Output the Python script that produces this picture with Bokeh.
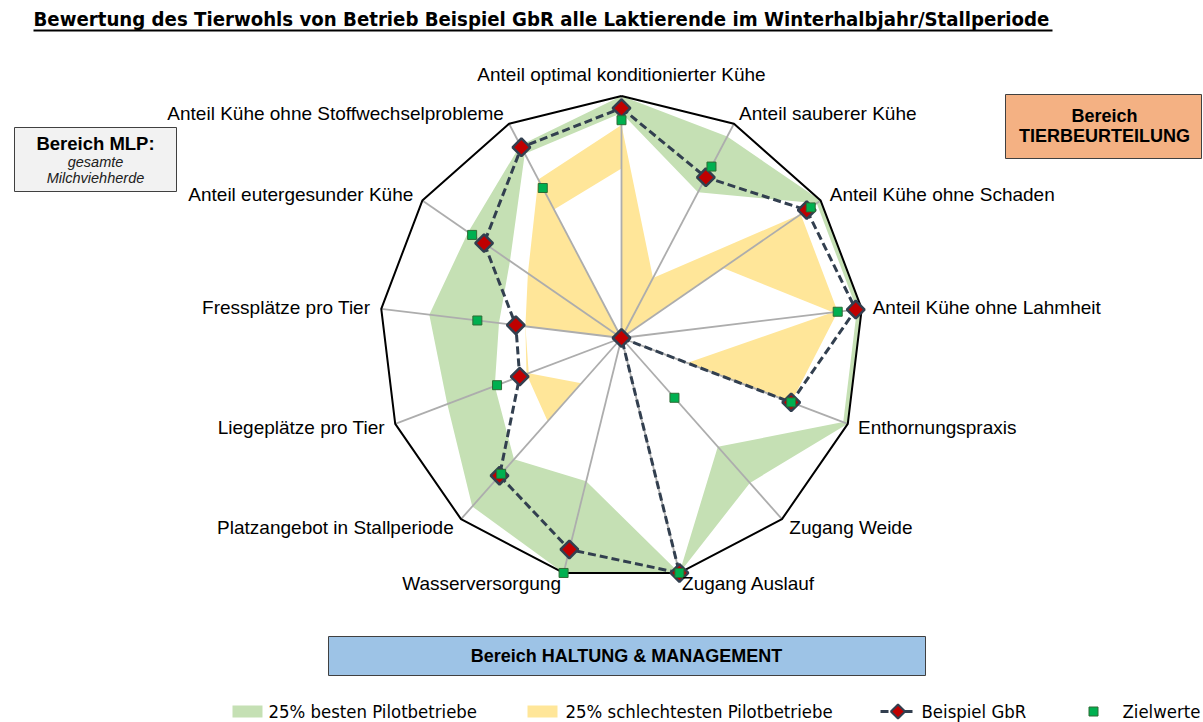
import math
from bokeh.plotting import figure
from bokeh.models import Range1d
from bokeh.core.properties import value
from bokeh.embed import file_html
from bokeh.resources import INLINE

# ---------------- data ----------------
categories = [
    "Anteil optimal konditionierter Kühe",
    "Anteil sauberer Kühe",
    "Anteil Kühe ohne Schaden",
    "Anteil Kühe ohne Lahmheit",
    "Enthornungspraxis",
    "Zugang Weide",
    "Zugang Auslauf",
    "Wasserversorgung",
    "Platzangebot in Stallperiode",
    "Liegeplätze pro Tier",
    "Fressplätze pro Tier",
    "Anteil eutergesunder Kühe",
    "Anteil Kühe ohne Stoffwechselprobleme",
]
best_upper = [1.00, 0.94, 1.00, 1.00, 1.00, 0.80, 1.00, 1.00, 0.93, 0.77, 0.80, 0.77, 0.90]
best_lower = [0.93, 0.68, 0.98, 0.98, 0.98, 0.60, 1.00, 0.61, 0.67, 0.56, 0.51, 0.56, 0.86]
worst_upper = [0.88, 0.28, 0.90, 0.90, 0.75, 0.00, 0.00, 0.00, 0.46, 0.42, 0.40, 0.47, 0.74]
worst_lower = [0.70, 0.00, 0.51, 0.88, 0.29, 0.00, 0.00, 0.00, 0.25, 0.41, 0.40, 0.00, 0.60]
betrieb = [0.95, 0.75, 0.93, 0.975, 0.75, 0.00, 1.00, 0.90, 0.76, 0.45, 0.44, 0.69, 0.89]
zielwerte = [0.90, 0.80, 0.95, 0.90, 0.75, 0.33, 1.00, 1.00, 0.75, 0.55, 0.60, 0.75, 0.70]

title = "Bewertung des Tierwohls von Betrieb Beispiel GbR alle Laktierende im Winterhalbjahr/Stallperiode"
legend_labels = ["25% besten Pilotbetriebe", "25% schlechtesten Pilotbetriebe", "Beispiel GbR", "Zielwerte"]

# ---------------- styles ----------------
GREEN = "#c5e0b4"
YELLOW = "#ffe699"
RED = "#c00000"
DARK = "#323f4f"
TGREEN = "#00b050"
LABEL_FONT = "Liberation Sans"
NARROW = "DejaVu Sans Condensed"

W, H = 1203, 722
p = figure(width=W, height=H, x_range=Range1d(0, W), y_range=Range1d(H, 0),
           output_backend="svg", toolbar_location=None, min_border=0)
p.axis.visible = False
p.grid.visible = False
p.outline_line_color = None
p.background_fill_color = "white"
p.border_fill_color = "white"

CX, CY, R = 621, 337.5, 242
n = len(categories)
ang = [2 * math.pi * i / n for i in range(n)]


def pts(vals, close=False):
    xs = [CX + R * v * math.sin(a) for v, a in zip(vals, ang)]
    ys = [CY - R * v * math.cos(a) for v, a in zip(vals, ang)]
    if close:
        xs.append(xs[0]); ys.append(ys[0])
    return xs, ys


# filled bands (layered like the original filled radar)
for vals, col in [(best_upper, GREEN), (best_lower, "white"),
                  (worst_upper, YELLOW), (worst_lower, "white")]:
    xs, ys = pts(vals)
    p.patch(xs, ys, fill_color=col, line_color=None)

# spokes
vx, vy = pts([1.0] * n)
p.segment(x0=[CX] * n, y0=[CY] * n, x1=vx, y1=vy, line_color="#adadad", line_width=1.8)
# outer frame
ox, oy = pts([1.0] * n, close=True)
p.line(ox, oy, line_color="black", line_width=2)

# Beispiel GbR
bx, by = pts(betrieb, close=True)
p.line(bx, by, line_color=DARK, line_width=3, line_dash="8 4")
bx, by = pts(betrieb)
p.scatter(bx, by, marker="square", angle=math.pi / 4, size=12.5, fill_color=RED,
          line_color=DARK, line_width=2.5)
# Zielwerte
zx, zy = pts(zielwerte)
p.scatter(zx, zy, marker="square", size=9, fill_color=TGREEN, line_color="#2e6b34", line_width=1)

# category labels
groups = {"left": ([], [], []), "right": ([], [], []), "center": ([], [], [])}
for i, (c, a, x, y) in enumerate(zip(categories, ang, vx, vy)):
    s, co = math.sin(a), math.cos(a)
    if abs(s) < 1e-6:
        g = "center"; tx, ty = x, y - 22
    elif s > 0:
        g = "left"; tx, ty = x + 11 * s, y - 11 * co
    else:
        g = "right"; tx, ty = x + 11 * s, y - 11 * co
    groups[g][0].append(tx); groups[g][1].append(ty); groups[g][2].append(c)
for g, (xs, ys, ts) in groups.items():
    p.text(xs, ys, text=ts, text_align=g, text_baseline="middle",
           text_font=value(LABEL_FONT), text_font_size="19px", text_color="black")

# title
p.text([33], [18], text=[title], text_align="left", text_baseline="middle",
       text_font=value(NARROW), text_font_size="20.2px", text_font_style="bold", text_color="black")
p.segment(x0=[33], y0=[30], x1=[1052], y1=[30], line_color="black", line_width=2)

# area boxes
p.quad(left=[14], right=[176], top=[127], bottom=[191], fill_color="#f2f2f2", line_color="#404040", line_width=1)
p.text([95], [143], text=["Bereich MLP:"], text_align="center", text_baseline="middle",
       text_font=value(LABEL_FONT), text_font_size="18.5px", text_font_style="bold")
p.text([95, 95], [161, 177], text=["gesamte", "Milchviehherde"], text_align="center", text_baseline="middle",
       text_font=value(LABEL_FONT), text_font_size="14.5px", text_font_style="italic", text_color="#202020")

p.quad(left=[1005], right=[1201], top=[94], bottom=[158], fill_color="#f4b183", line_color="#404040", line_width=1)
p.text([1104, 1104], [115, 135], text=["Bereich", "TIERBEURTEILUNG"], text_align="center", text_baseline="middle",
       text_font=value(LABEL_FONT), text_font_size="18px", text_font_style="bold")

p.quad(left=[328], right=[925], top=[636], bottom=[675], fill_color="#9dc3e6", line_color="#404040", line_width=1)
p.text([626], [655], text=["Bereich HALTUNG & MANAGEMENT"], text_align="center", text_baseline="middle",
       text_font=value(LABEL_FONT), text_font_size="18px", text_font_style="bold")

# legend (drawn manually)
LY = 711
p.quad(left=[232], right=[262], top=[LY - 6], bottom=[LY + 6], fill_color=GREEN, line_color=None)
p.quad(left=[527], right=[557], top=[LY - 6], bottom=[LY + 6], fill_color=YELLOW, line_color=None)
p.line([880, 915], [LY, LY], line_color=DARK, line_width=3, line_dash="8 4")
p.scatter([897.5], [LY], marker="square", angle=math.pi / 4, size=10, fill_color=RED, line_color=DARK, line_width=2)
p.scatter([1093], [LY], marker="square", size=9, fill_color=TGREEN, line_color="#2e6b34", line_width=1)
p.text([268, 565, 921, 1122], [LY] * 4, text=legend_labels, text_align="left", text_baseline="middle",
       text_font=value(NARROW), text_font_size="18.4px", text_color="black")

open("out.html", "w").write(file_html(p, INLINE))
